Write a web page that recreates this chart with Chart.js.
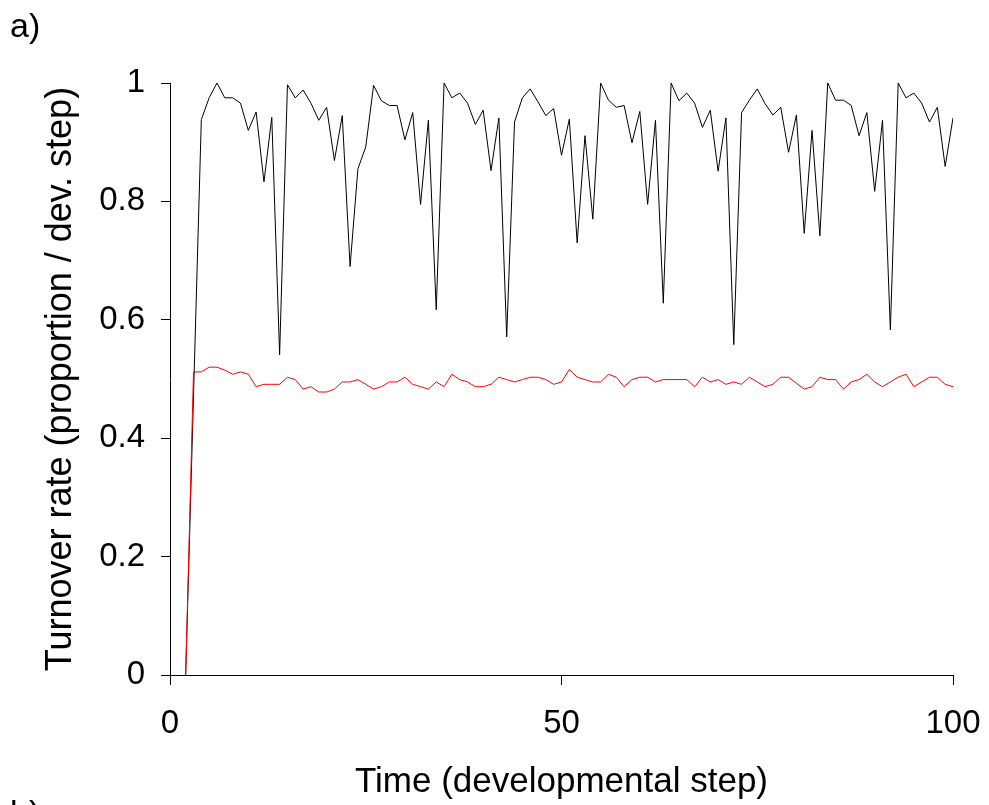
<!DOCTYPE html>
<html>
<head>
<meta charset="utf-8">
<script src="https://cdn.jsdelivr.net/npm/chart.js@4/dist/chart.umd.min.js"></script>
<style>
  html, body { margin: 0; padding: 0; background: #fff; overflow: hidden; }
  #wrap { position: relative; width: 989px; height: 805px; }
  .panel { position: absolute; font-family: "Liberation Sans", Arial, sans-serif; font-size: 34px; line-height: 1; color: #000; }
</style>
</head>
<body>
<div id="wrap">
  <canvas id="chart" width="989" height="805"></canvas>
  <div class="panel" style="left:10px; top:8px;">a)</div>
  <div class="panel" style="left:10px; top:795px;">b)</div>
</div>
<script>
// developmental steps (x)
const steps = [2, 3, 4, 5, 6, 7, 8, 9, 10, 11, 12, 13, 14, 15, 16, 17, 18, 19, 20,
    21, 22, 23, 24, 25, 26, 27, 28, 29, 30, 31, 32, 33, 34, 35, 36, 37, 38, 39, 40,
    41, 42, 43, 44, 45, 46, 47, 48, 49, 50, 51, 52, 53, 54, 55, 56, 57, 58, 59, 60,
    61, 62, 63, 64, 65, 66, 67, 68, 69, 70, 71, 72, 73, 74, 75, 76, 77, 78, 79, 80,
    81, 82, 83, 84, 85, 86, 87, 88, 89, 90, 91, 92, 93, 94, 95, 96, 97, 98, 99, 100];

// black series
const blackRate = [0, 0.47, 0.938, 0.975, 1.0, 0.975, 0.975, 0.966, 0.92, 0.951,
    0.833, 0.942, 0.541, 0.997, 0.975, 0.988, 0.966, 0.937, 0.959, 0.869,
    0.945, 0.69, 0.855, 0.892, 0.996, 0.97, 0.962, 0.962, 0.904, 0.95,
    0.795, 0.937, 0.617, 1.0, 0.975, 0.983, 0.966, 0.93, 0.954, 0.852,
    0.941, 0.571, 0.934, 0.975, 0.99, 0.968, 0.945, 0.957, 0.878, 0.939,
    0.73, 0.911, 0.77, 1.0, 0.971, 0.959, 0.962, 0.899, 0.952, 0.795,
    0.937, 0.628, 1.0, 0.97, 0.983, 0.966, 0.925, 0.954, 0.851, 0.941,
    0.558, 0.95, 0.971, 0.99, 0.965, 0.946, 0.959, 0.883, 0.946, 0.746,
    0.92, 0.742, 1.0, 0.971, 0.971, 0.962, 0.911, 0.95, 0.817, 0.937,
    0.583, 1.0, 0.975, 0.983, 0.966, 0.934, 0.959, 0.859, 0.941];

// red series
const redRate = [0, 0.512, 0.512, 0.52, 0.52, 0.515, 0.508, 0.512, 0.508, 0.487,
    0.491, 0.491, 0.491, 0.503, 0.499, 0.483, 0.487, 0.478, 0.478, 0.483,
    0.495, 0.495, 0.499, 0.491, 0.483, 0.487, 0.495, 0.495, 0.503, 0.491,
    0.487, 0.483, 0.495, 0.487, 0.508, 0.499, 0.495, 0.487, 0.487, 0.491,
    0.503, 0.499, 0.495, 0.499, 0.503, 0.503, 0.499, 0.491, 0.495, 0.516,
    0.503, 0.499, 0.495, 0.495, 0.508, 0.503, 0.487, 0.499, 0.503, 0.503,
    0.495, 0.499, 0.499, 0.499, 0.499, 0.487, 0.503, 0.495, 0.499, 0.491,
    0.495, 0.491, 0.503, 0.495, 0.487, 0.491, 0.503, 0.503, 0.493, 0.483,
    0.487, 0.503, 0.499, 0.499, 0.483, 0.495, 0.499, 0.508, 0.495, 0.487,
    0.495, 0.503, 0.508, 0.487, 0.495, 0.503, 0.503, 0.491, 0.487];

const xTicks = [0, 50, 100];
const yTicks = [0, 0.2, 0.4, 0.6, 0.8, 1];

const fontFamily = '"Liberation Sans", Arial, sans-serif';

function toPoints(values) {
    return values.map((v, i) => ({ x: steps[i], y: v }));
}

const chart = new Chart('chart', {
    type: 'line',
    data: {
        datasets: [
            { label: 'red', data: toPoints(redRate), borderColor: '#ff0000', borderWidth: 1 },
            { label: 'black', data: toPoints(blackRate), borderColor: '#000000', borderWidth: 1 }
        ]
    },
    options: {
        responsive: false,
        animation: false,
        elements: { point: { radius: 0 }, line: { tension: 0 } },
        layout: { padding: { top: 83, right: 36, left: 0, bottom: 0 } },
        plugins: { legend: { display: false }, tooltip: { enabled: false } },
        scales: {
            x: {
                type: 'linear', min: 0, max: 100,
                afterBuildTicks: s => { s.ticks = xTicks.map(v => ({ value: v })); },
                ticks: { color: '#000', font: { family: fontFamily, size: 33 }, padding: 19, maxRotation: 0 },
                grid: { drawOnChartArea: false, tickLength: 10, color: '#000' },
                border: { color: '#000', width: 1 },
                title: { display: true, text: 'Time (developmental step)', color: '#000',
                    font: { family: fontFamily, size: 35 }, padding: { top: 0, bottom: 2 } },
                afterFit: s => { s.height = 130; s.paddingLeft = 0; s.paddingRight = 0; }
            },
            y: {
                type: 'linear', min: 0, max: 1,
                afterBuildTicks: s => { s.ticks = yTicks.map(v => ({ value: v })); },
                ticks: { color: '#000', font: { family: fontFamily, size: 33 }, padding: 16,
                    callback: v => String(Number(v.toFixed(1))) },
                grid: { drawOnChartArea: false, tickLength: 9, color: '#000' },
                border: { color: '#000', width: 1 },
                title: { display: true, text: 'Turnover rate (proportion / dev. step)', color: '#000',
                    font: { family: fontFamily, size: 36 }, padding: { top: 39, bottom: 0 } },
                afterFit: s => { s.width = 170; s.paddingTop = 0; s.paddingBottom = 0; }
            }
        }
    }
});
</script>
</body>
</html>
